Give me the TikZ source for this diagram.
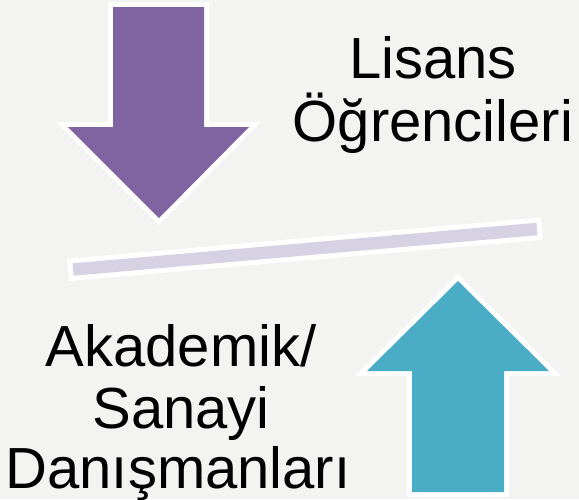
\documentclass[tikz,border=0pt]{standalone}
\usepackage{fontspec}
\setmainfont{Liberation Sans}
\definecolor{bgc}{RGB}{243,243,241}
\definecolor{purp}{RGB}{128,99,161}
\definecolor{cyanarrow}{RGB}{75,172,198}
\definecolor{lav}{RGB}{214,210,227}
\begin{document}
\begin{tikzpicture}[x=1pt,y=-1pt,
  outline/.style={draw=white,line width=10pt,line join=miter,miter limit=10},
  lbl/.style={anchor=base,inner sep=0pt,font=\fontsize{58}{63}\selectfont,text=black}]
\useasboundingbox (0,0) rectangle (579,499);
\fill[bgc] (0,0) rectangle (579,499);
% purple down arrow
\path[outline] (113,7) -- (204,7) -- (204,127) -- (249,127) -- (159,218) -- (68,127) -- (113,127) -- cycle;
\fill[purp] (113,7) -- (204,7) -- (204,127) -- (249,127) -- (159,218) -- (68,127) -- (113,127) -- cycle;
% bar
\path[outline] (72.5,263.3) -- (536.5,222.8) -- (537.5,235.2) -- (73.5,275.7) -- cycle;
\fill[lav] (72.5,263.3) -- (536.5,222.8) -- (537.5,235.2) -- (73.5,275.7) -- cycle;
% cyan up arrow
\path[outline] (412,492) -- (412,371) -- (367,371) -- (458,281) -- (549,371) -- (504,371) -- (504,492) -- cycle;
\fill[cyanarrow] (412,492) -- (412,371) -- (367,371) -- (458,281) -- (549,371) -- (504,371) -- (504,492) -- cycle;
% labels
\node[lbl] (lis1) at (433,78) {Lisans};
\node[lbl] (lis2) at (433,141) {Öğrencileri};
\node[lbl] (ak1) at (181,366) {Akademik/};
\node[lbl] (ak2) at (181,428) {Sanayi};
\node[lbl] (ak3) at (178,488) {Danışmanları};
\end{tikzpicture}
\end{document}
